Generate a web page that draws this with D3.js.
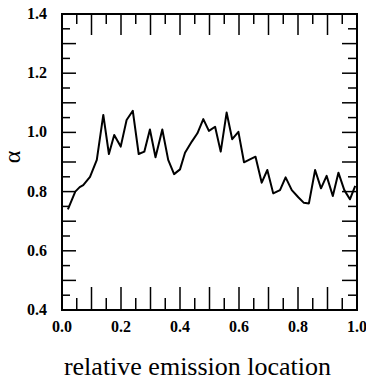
<!DOCTYPE html>
<html lang="en">
<head>
  <meta charset="UTF-8">
  <title>alpha vs emission location</title>
  <script src="https://cdnjs.cloudflare.com/ajax/libs/d3/7.8.5/d3.min.js"></script>
  <style>
    body { margin: 0; background: #fff; }
    svg text { font-family: 'Liberation Serif', serif; }
  </style>
</head>
<body>
<div id="chart"></div>
<script>
// traced values
var locX = [0.02, 0.045, 0.06, 0.072, 0.095, 0.118, 0.14, 0.159, 0.177, 0.199, 0.219, 0.24, 0.26, 0.279,
  0.298, 0.317, 0.34, 0.36, 0.38, 0.40, 0.417, 0.44, 0.459, 0.479, 0.498, 0.519, 0.538, 0.558,
  0.577, 0.598, 0.617, 0.637, 0.656, 0.677, 0.696, 0.716, 0.739, 0.758, 0.779, 0.801, 0.82, 0.837,
  0.858, 0.878, 0.897, 0.918, 0.937, 0.957, 0.976, 0.994];
var alpha = [0.74, 0.80, 0.815, 0.822, 0.85, 0.907, 1.059, 0.927, 0.991, 0.952, 1.042, 1.073, 0.927, 0.935,
  1.01, 0.916, 1.01, 0.907, 0.859, 0.875, 0.931, 0.969, 0.997, 1.045, 1.005, 1.019, 0.935, 1.067,
  0.977, 1.002, 0.899, 0.909, 0.918, 0.83, 0.873, 0.794, 0.805, 0.848, 0.805, 0.781, 0.762, 0.76,
  0.873, 0.811, 0.853, 0.785, 0.864, 0.805, 0.774, 0.819];
var xTickLabels = [0.0, 0.2, 0.4, 0.6, 0.8, 1.0];
var yTickLabels = [0.4, 0.6, 0.8, 1.0, 1.2, 1.4];

var svgWidth = 366, svgHeight = 381;
var margin = { top: 14, right: 9, bottom: 71, left: 62 };
var width = svgWidth - margin.left - margin.right;
var height = svgHeight - margin.top - margin.bottom;

var svg = d3.select("#chart").append("svg")
  .attr("width", svgWidth)
  .attr("height", svgHeight);

var g = svg.append("g")
  .attr("transform", `translate(${margin.left}, ${margin.top})`);

var x = d3.scaleLinear().domain([0, 1]).range([0, width]);
var y = d3.scaleLinear().domain([0.4, 1.4]).range([height, 0]);

// tick positions every 0.05, longer every 0.1
var xTicks = d3.range(0, 21).map(i => i * 0.05);
var yTicks = d3.range(0, 21).map(i => 0.4 + i * 0.05);
function isMajor(i) { return i % 2 === 0; }

var ticks = g.append("g").attr("stroke", "#000").attr("stroke-width", 1.5);

// bottom + top ticks
xTicks.forEach(function(v, i) {
  if (i === 0 || i === 20) return;
  var px = x(v);
  ticks.append("line").attr("x1", px).attr("x2", px)
    .attr("y1", height).attr("y2", height - (isMajor(i) ? 23 : 12));
  ticks.append("line").attr("x1", px).attr("x2", px)
    .attr("y1", 0).attr("y2", isMajor(i) ? 21 : 10);
});

// left + right ticks
yTicks.forEach(function(v, i) {
  if (i === 0 || i === 20) return;
  var py = y(v);
  ticks.append("line").attr("y1", py).attr("y2", py)
    .attr("x1", 0).attr("x2", isMajor(i) ? 14 : 8);
  ticks.append("line").attr("y1", py).attr("y2", py)
    .attr("x1", width).attr("x2", width - (isMajor(i) ? 15 : 9));
});

// frame
g.append("rect")
  .attr("width", width).attr("height", height)
  .attr("fill", "none").attr("stroke", "#000").attr("stroke-width", 2);

// tick labels
g.selectAll(".xl").data(xTickLabels).enter().append("text")
  .attr("font-weight", "bold").attr("font-size", 16)
  .attr("x", d => x(d)).attr("y", height + 22)
  .attr("text-anchor", "middle")
  .text(d => d.toFixed(1));

g.selectAll(".yl").data(yTickLabels).enter().append("text")
  .attr("font-weight", "bold").attr("font-size", 16)
  .attr("x", -15).attr("y", d => y(d) + 5)
  .attr("text-anchor", "end")
  .text(d => d.toFixed(1));

// curve
var pts = locX.map((v, i) => [v, alpha[i]]);
g.append("path")
  .datum(pts)
  .attr("fill", "none")
  .attr("stroke", "#000")
  .attr("stroke-width", 2)
  .attr("stroke-linejoin", "round")
  .attr("d", d3.line().x(d => x(d[0])).y(d => y(d[1])));

// axis titles
svg.append("text")
  .attr("font-size", 26)
  .attr("x", margin.left + width / 2 - 12).attr("y", 375)
  .attr("text-anchor", "middle")
  .text("relative emission location");

svg.append("text")
  .attr("font-size", 24)
  .attr("transform", "translate(20, 157) rotate(-90)")
  .attr("text-anchor", "middle")
  .text("α");
</script>
</body>
</html>
